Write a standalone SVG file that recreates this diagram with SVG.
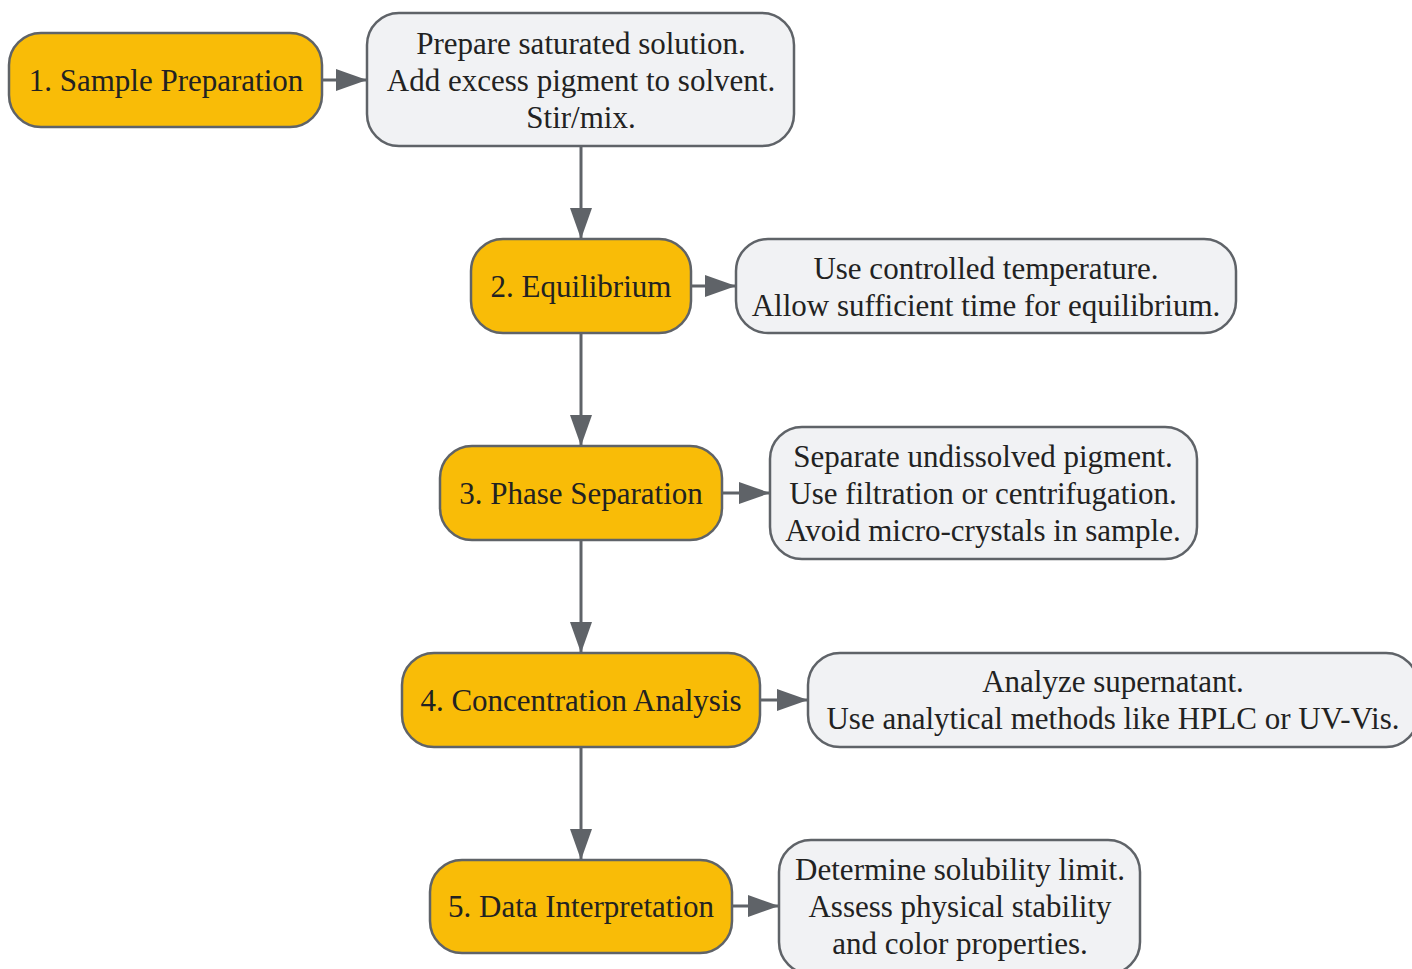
<svg xmlns="http://www.w3.org/2000/svg" width="1412" height="969" viewBox="0 0 1412 969">
<defs>
<style>
.step rect{fill:#f9bc07;stroke:#5f6368;stroke-width:2.5}
.note rect{fill:#f1f2f4;stroke:#5f6368;stroke-width:2.5}
text{font-family:"Liberation Serif","Times New Roman",serif;font-size:31px;fill:#222;text-anchor:middle}
.conn line{stroke:#5f6368;stroke-width:3}
</style>
<marker id="ah" markerUnits="userSpaceOnUse" markerWidth="32" markerHeight="24" refX="31" refY="11" orient="auto">
<path d="M0,0 L31,11 L0,22 Z" fill="#5f6368"/>
</marker>
</defs>
<rect width="1412" height="969" fill="#fff"/>
<g id="connectors" class="conn">
<line x1="322" y1="80" x2="367" y2="80" marker-end="url(#ah)"/>
<line x1="581" y1="146" x2="581" y2="239" marker-end="url(#ah)"/>
<line x1="691" y1="286" x2="736" y2="286" marker-end="url(#ah)"/>
<line x1="581" y1="333" x2="581" y2="446" marker-end="url(#ah)"/>
<line x1="722" y1="493" x2="770" y2="493" marker-end="url(#ah)"/>
<line x1="581" y1="540" x2="581" y2="653" marker-end="url(#ah)"/>
<line x1="760" y1="700" x2="808" y2="700" marker-end="url(#ah)"/>
<line x1="581" y1="747" x2="581" y2="860" marker-end="url(#ah)"/>
<line x1="732" y1="906" x2="779" y2="906" marker-end="url(#ah)"/>
</g>
<g id="step1" class="step"><rect x="9" y="33" width="313" height="94" rx="32"/><text x="166" y="91">1. Sample Preparation</text></g>
<g id="note1" class="note"><rect x="367" y="13" width="427" height="133" rx="32"/><text x="581" y="54">Prepare saturated solution.</text><text x="581" y="91">Add excess pigment to solvent.</text><text x="581" y="128">Stir/mix.</text></g>
<g id="step2" class="step"><rect x="471" y="239" width="220" height="94" rx="32"/><text x="581" y="297">2. Equilibrium</text></g>
<g id="note2" class="note"><rect x="736" y="239" width="500" height="94" rx="32"/><text x="986" y="279">Use controlled temperature.</text><text x="986" y="316">Allow sufficient time for equilibrium.</text></g>
<g id="step3" class="step"><rect x="440" y="446" width="282" height="94" rx="32"/><text x="581" y="504">3. Phase Separation</text></g>
<g id="note3" class="note"><rect x="770" y="427" width="427" height="132" rx="32"/><text x="983" y="467">Separate undissolved pigment.</text><text x="983" y="504">Use filtration or centrifugation.</text><text x="983" y="541">Avoid micro-crystals in sample.</text></g>
<g id="step4" class="step"><rect x="402" y="653" width="358" height="94" rx="32"/><text x="581" y="711">4. Concentration Analysis</text></g>
<g id="note4" class="note"><rect x="808" y="653" width="610" height="94" rx="32"/><text x="1113" y="692">Analyze supernatant.</text><text x="1113" y="729">Use analytical methods like HPLC or UV-Vis.</text></g>
<g id="step5" class="step"><rect x="430" y="860" width="302" height="93" rx="32"/><text x="581" y="917">5. Data Interpretation</text></g>
<g id="note5" class="note"><rect x="779" y="840" width="361" height="134" rx="32"/><text x="960" y="880">Determine solubility limit.</text><text x="960" y="917">Assess physical stability</text><text x="960" y="954">and color properties.</text></g>
</svg>
